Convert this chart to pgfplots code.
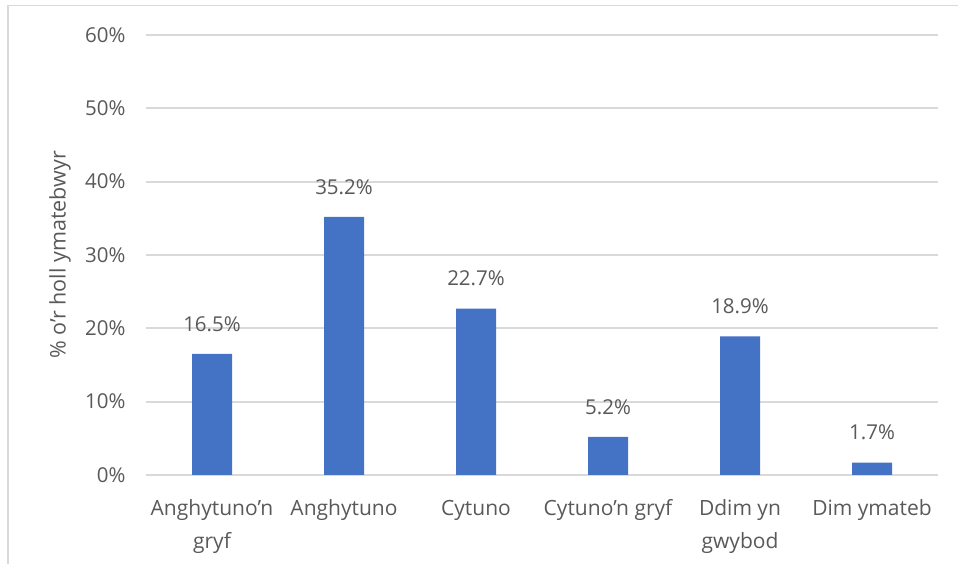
\documentclass[border=0pt]{standalone}
\usepackage{pgfplots}
\pgfplotsset{compat=1.18}
\usepackage{fontspec}
\setmainfont{Open Sans}
\definecolor{barc}{HTML}{4472C4}
\definecolor{txtc}{HTML}{595959}
\definecolor{gridc}{HTML}{D9D9D9}
\begin{document}
\begin{tikzpicture}[x=1pt,y=1pt]
\begin{axis}[
  at={(146pt,89pt)}, anchor=south west,
  scale only axis, width=792pt, height=440pt,
  xmin=-0.5, xmax=5.5, ymin=0, ymax=60,
  ybar, bar width=40pt,
  axis line style={draw=none},
  ytick={0,10,...,60},
  yticklabel={\pgfmathprintnumber{\tick}\%},
  ymajorgrids, major grid style={draw=gridc, line width=1.8pt},
  tick style={draw=none},
  xtick=data,
  xticklabels={{Anghytuno’n\\gryf},Anghytuno,Cytuno,Cytuno’n gryf,{Ddim yn\\gwybod},Dim ymateb},
  xticklabel style={align=center, font=\fontsize{21}{33}\selectfont, text=txtc, anchor=north, yshift=-17pt},
  yticklabel style={font=\fontsize{20.5}{24}\selectfont, text=txtc, anchor=east, xshift=-17pt},
  /pgf/number format/assume math mode=true,
  ylabel={\% o’r holl ymatebwyr},
  every axis y label/.style={at={(rel axis cs:0,0.5)}, rotate=90, anchor=center, yshift=86pt, font=\fontsize{21.5}{24}\selectfont, text=txtc},
  nodes near coords={\pgfmathprintnumber[fixed,precision=1,fixed zerofill]{\pgfplotspointmeta}\%},
  nodes near coords style={font=\fontsize{20.5}{24}\selectfont, text=txtc, anchor=center, yshift=30pt},
]
\addplot[fill=barc, draw=none] coordinates {(0,16.5) (1,35.2) (2,22.7) (3,5.2) (4,18.9) (5,1.7)};
\end{axis}
\draw[gridc, line width=1.5pt] (8pt,0pt) -- (8pt,558.5pt) -- (958pt,558.5pt);
\pgfresetboundingbox
\path (0pt,0pt) rectangle (958pt,564pt);
\end{tikzpicture}
\end{document}
